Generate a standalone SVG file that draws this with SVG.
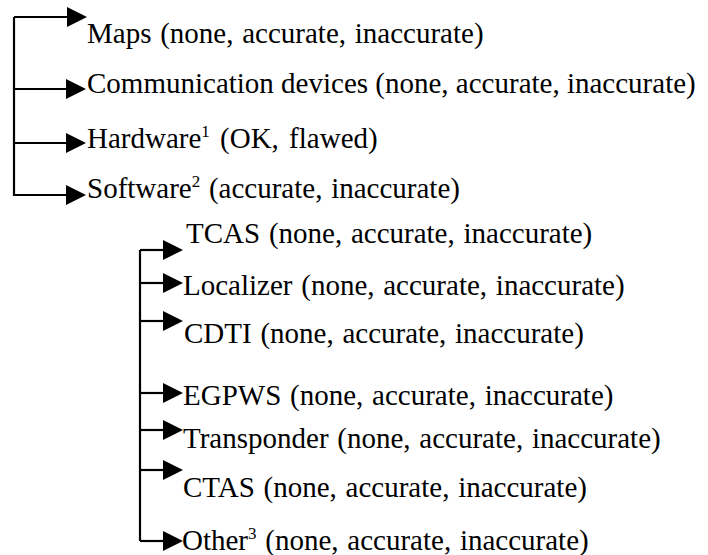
<svg xmlns="http://www.w3.org/2000/svg" width="708" height="555" viewBox="0 0 708 555">
<rect width="708" height="555" fill="#fff"/>
<g id="connectors" stroke="#000" stroke-width="2.2" fill="none">
<path d="M14,17 V196"/>
<path d="M14,17 H67"/>
<path d="M14,89 H66"/>
<path d="M14,143 H66"/>
<path d="M14,195 H66"/>
<path d="M140,250 V541"/>
<path d="M140,250 H163"/>
<path d="M140,283 H163"/>
<path d="M140,321 H163"/>
<path d="M140,393 H163"/>
<path d="M140,430 H163"/>
<path d="M140,470 H163"/>
<path d="M140,541 H163"/>
<g fill="#000" stroke="none">
<polygon points="67,7 87,17 67,27"/>
<polygon points="66,79 86,89 66,99"/>
<polygon points="66,133 86,143 66,153"/>
<polygon points="66,185 86,195 66,205"/>
<polygon points="163,240 183,250 163,260"/>
<polygon points="163,273 183,283 163,293"/>
<polygon points="163,311 183,321 163,331"/>
<polygon points="163,383 183,393 163,403"/>
<polygon points="163,420 183,430 163,440"/>
<polygon points="163,460 183,470 163,480"/>
<polygon points="163,531 183,541 163,551"/>
</g>
</g>
<g id="maps"><text font-family="Times New Roman" font-size="29" word-spacing="1.5" x="87" y="43">Maps (none, accurate, inaccurate)</text></g>
<g id="comm"><text font-family="Times New Roman" font-size="29" x="87" y="93">Communication devices (none, accurate, inaccurate)</text></g>
<g id="hardware"><text font-family="Times New Roman" font-size="29" word-spacing="3" x="87" y="148">Hardware<tspan font-size="17" dy="-11">1</tspan><tspan dy="11"> (OK, flawed)</tspan></text></g>
<g id="software"><text font-family="Times New Roman" font-size="29" word-spacing="1.5" x="87" y="198">Software<tspan font-size="17" dy="-11">2</tspan><tspan dy="11"> (accurate, inaccurate)</tspan></text></g>
<g id="tcas"><text font-family="Times New Roman" font-size="29" word-spacing="1.5" x="186" y="243">TCAS (none, accurate, inaccurate)</text></g>
<g id="localizer"><text font-family="Times New Roman" font-size="29" word-spacing="1.5" x="183" y="295">Localizer (none, accurate, inaccurate)</text></g>
<g id="cdti"><text font-family="Times New Roman" font-size="29" word-spacing="1.5" x="184" y="343">CDTI (none, accurate, inaccurate)</text></g>
<g id="egpws"><text font-family="Times New Roman" font-size="29" word-spacing="1.5" x="183" y="405">EGPWS (none, accurate, inaccurate)</text></g>
<g id="transponder"><text font-family="Times New Roman" font-size="29" word-spacing="1.5" x="183" y="448">Transponder (none, accurate, inaccurate)</text></g>
<g id="ctas"><text font-family="Times New Roman" font-size="29" word-spacing="1.5" x="183" y="497">CTAS (none, accurate, inaccurate)</text></g>
<g id="other"><text font-family="Times New Roman" font-size="29" word-spacing="1.5" x="182" y="550">Other<tspan font-size="17" dy="-11">3</tspan><tspan dy="11"> (none, accurate, inaccurate)</tspan></text></g>
</svg>
